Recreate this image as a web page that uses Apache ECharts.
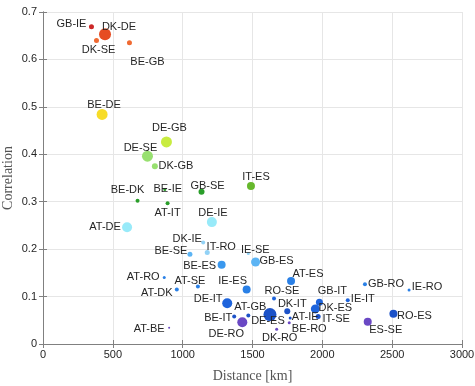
<!DOCTYPE html>
<html>
<head>
<meta charset="utf-8">
<script src="https://cdn.jsdelivr.net/npm/echarts@6/dist/echarts.min.js"></script>
<style>
  html, body { margin: 0; padding: 0; background: #fff; }
  #chart { width: 475px; height: 386px; }
</style>
</head>
<body>
<div id="chart"></div>
<script>
// country pairs, distance [km], correlation, bubble weight
const pairs = ['GB-IE', 'DK-DE', 'DK-SE', 'BE-GB', 'BE-DE', 'DE-GB', 'DE-SE', 'DK-GB', 'BE-DK', 'BE-IE',
  'AT-IT', 'GB-SE', 'IT-ES', 'DE-IE', 'AT-DE', 'DK-IE', 'BE-SE', 'IT-RO', 'IE-SE', 'GB-ES',
  'BE-ES', 'AT-RO', 'AT-SE', 'AT-DK', 'IE-ES', 'DE-IT', 'AT-GB', 'BE-IT', 'DE-RO', 'DE-ES',
  'DK-RO', 'AT-BE', 'RO-SE', 'AT-ES', 'DK-IT', 'AT-IE', 'BE-RO', 'GB-IT', 'DK-ES', 'IT-SE',
  'IE-IT', 'GB-RO', 'ES-SE', 'RO-ES', 'IE-RO']
const distance = [347, 444, 383, 619, 423, 884, 748, 801, 677, 872,
  892, 1135, 1489, 1209, 602, 1147, 1052, 1176, 1470, 1522,
  1279, 868, 1109, 958, 1458, 1319, 1470, 1369, 1427, 1625,
  1673, 903, 1654, 1776, 1749, 1770, 1763, 1979, 1950, 1970,
  2182, 2305, 2325, 2509, 2621]
const correlation = [0.669, 0.653, 0.640, 0.635, 0.484, 0.426, 0.396, 0.375, 0.302, 0.326,
  0.297, 0.321, 0.333, 0.257, 0.246, 0.214, 0.189, 0.193, 0.191, 0.173,
  0.167, 0.140, 0.121, 0.115, 0.115, 0.086, 0.060, 0.058, 0.046, 0.062,
  0.031, 0.034, 0.096, 0.133, 0.069, 0.055, 0.045, 0.088, 0.074, 0.058,
  0.092, 0.126, 0.047, 0.064, 0.114]
const bubble = [5, 12, 5, 5, 11, 11, 11, 6, 4, 3,
  4, 6, 8, 10, 10, 4, 5, 5, 3, 9,
  8, 3, 4, 4, 8, 10, 4, 4, 10, 13,
  3, 2, 4, 8, 6, 3, 3, 7, 9, 5,
  4, 4, 8, 8, 3]
const xTicks = [0, 500, 1000, 1500, 2000, 2500, 3000]
const yTicks = [0, 0.1, 0.2, 0.3, 0.4, 0.5, 0.6, 0.7]

// where each label sits relative to its marker (px, label centre)
const labelOffset = {
  'GB-IE': [-20, -3], 'DK-DE': [14, -7], 'DK-SE': [2, 10], 'BE-GB': [18, 19], 'BE-DE': [2, -9],
  'DE-GB': [3, -14], 'DE-SE': [-7, -8], 'DK-GB': [21, 0], 'BE-DK': [-10, -11], 'BE-IE': [3, 0],
  'AT-IT': [0, 10], 'GB-SE': [6, -6], 'IT-ES': [5, -9], 'DE-IE': [1, -9], 'AT-DE': [-22, 0],
  'DK-IE': [-16, -4], 'BE-SE': [-19, -3], 'IT-RO': [14, -5], 'IE-SE': [7, -3], 'GB-ES': [21, -1],
  'BE-ES': [-22, 1], 'AT-RO': [-21, -1], 'AT-SE': [-8, -6], 'AT-DK': [-20, 4], 'IE-ES': [-14, -8],
  'DE-IT': [-19, -4], 'AT-GB': [2, -9], 'BE-IT': [-16, 1], 'DE-RO': [-16, 12], 'DE-ES': [-2, 6],
  'DK-RO': [3, 9], 'AT-BE': [-20, 1], 'RO-SE': [8, -7], 'AT-ES': [17, -7], 'DK-IT': [5, -7],
  'AT-IE': [15, -1], 'BE-RO': [20, 6], 'GB-IT': [13, -11], 'DK-ES': [20, -1], 'IT-SE': [18, 2],
  'IE-IT': [15, -1], 'GB-RO': [21, 0], 'ES-SE': [18, 8], 'RO-ES': [21, 2], 'IE-RO': [18, -3]
}

const chart = echarts.init(document.getElementById('chart'))

const points = pairs.map((p, i) => ({
  name: p,
  value: [distance[i], correlation[i], bubble[i]],
  label: { offset: labelOffset[p] || [0, 0] }
}))

const tickFont = { fontFamily: 'Liberation Sans, Arial, sans-serif', fontSize: 11, color: '#262626' }
const nameFont = { fontFamily: 'Liberation Serif, Times New Roman, serif', fontSize: 14, color: '#555' }
const axisLine = { show: true, lineStyle: { color: '#808080', width: 1 } }
const tick = { show: true, inside: true, length: 4, lineStyle: { color: '#808080' } }

chart.setOption({
  animation: false,
  grid: { left: 43, right: 13, top: 12, bottom: 42, outerBoundsMode: 'none', containLabel: false },
  visualMap: {
    type: 'piecewise',
    show: false,
    dimension: 1,
    seriesIndex: 0,
    pieces: [
      { min: 0, max: 0.05, color: '#6a48c4' },
      { min: 0.05, max: 0.07, color: '#1c52c8' },
      { min: 0.07, max: 0.1, color: '#1e64dc' },
      { min: 0.1, max: 0.14, color: '#2a80e6' },
      { min: 0.14, max: 0.17, color: '#3a98ee' },
      { min: 0.17, max: 0.19, color: '#5cb4f4' },
      { min: 0.19, max: 0.22, color: '#92d2f6' },
      { min: 0.22, max: 0.28, color: '#98eaf9' },
      { min: 0.28, max: 0.33, color: '#2a9e2a' },
      { min: 0.33, max: 0.36, color: '#66b82c' },
      { min: 0.36, max: 0.41, color: '#98e070' },
      { min: 0.41, max: 0.45, color: '#c8ec40' },
      { min: 0.45, max: 0.55, color: '#f7dc28' },
      { min: 0.55, max: 0.645, color: '#f06a32' },
      { min: 0.645, max: 0.66, color: '#e64c22' },
      { min: 0.66, max: 0.71, color: '#cc2828' }
    ]
  },
  xAxis: [{
    type: 'value',
    min: xTicks[0],
    max: xTicks[xTicks.length - 1],
    interval: xTicks[1] - xTicks[0],
    name: 'Distance [km]',
    nameLocation: 'middle',
    nameGap: 25,
    nameMoveOverlap: false,
    nameTextStyle: nameFont,
    axisLine: axisLine,
    axisTick: tick,
    axisLabel: Object.assign({ margin: 5, formatter: v => String(v) }, tickFont),
    splitLine: { show: true, lineStyle: { color: '#e6e6e6' } }
  }, {
    type: 'value',
    position: 'top',
    min: xTicks[0],
    max: xTicks[xTicks.length - 1],
    interval: xTicks[1] - xTicks[0],
    axisLine: axisLine,
    axisTick: tick,
    axisLabel: { show: false },
    splitLine: { show: false }
  }],
  yAxis: [{
    type: 'value',
    min: yTicks[0],
    max: yTicks[yTicks.length - 1],
    interval: 0.1,
    name: 'Correlation',
    nameLocation: 'middle',
    nameGap: 28,
    nameMoveOverlap: false,
    nameTextStyle: nameFont,
    axisLine: axisLine,
    axisTick: tick,
    axisLabel: Object.assign({ margin: 6 }, tickFont),
    splitLine: { show: true, lineStyle: { color: '#e6e6e6' } }
  }, {
    type: 'value',
    position: 'right',
    min: yTicks[0],
    max: yTicks[yTicks.length - 1],
    interval: 0.1,
    axisLine: axisLine,
    axisTick: tick,
    axisLabel: { show: false },
    splitLine: { show: false }
  }],
  series: [{
    type: 'scatter',
    data: points,
    symbolSize: val => val[2],
    itemStyle: { opacity: 1 },
    label: {
      show: true,
      position: 'inside',
      formatter: '{b}',
      fontFamily: 'Liberation Sans, Arial, sans-serif',
      fontSize: 11,
      color: '#262626'
    },
    emphasis: { disabled: true }
  }]
})
</script>
</body>
</html>
